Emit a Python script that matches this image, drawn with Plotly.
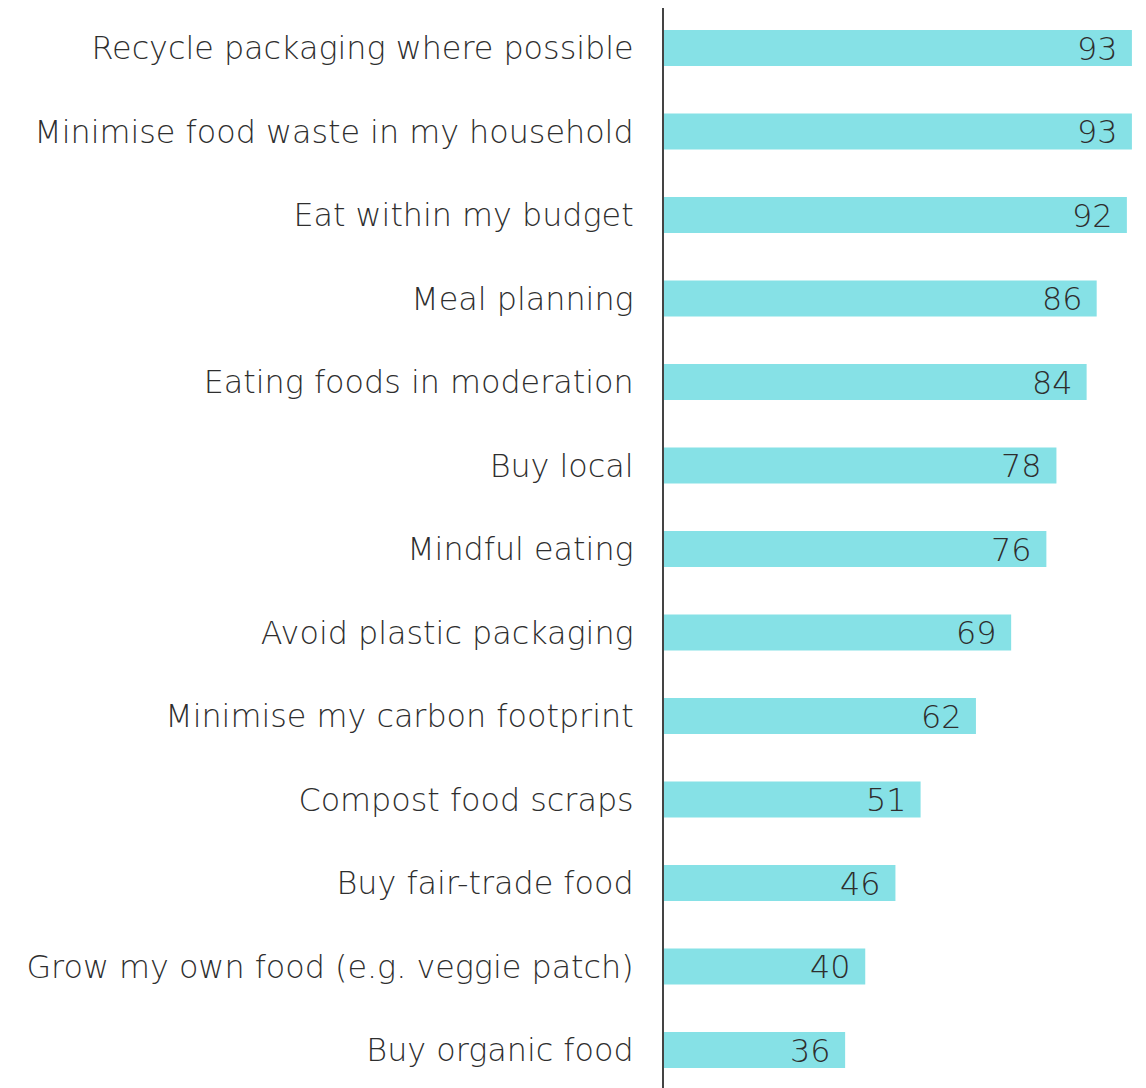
import plotly.graph_objects as go

# Share of respondents who do each food-related behaviour (%)
behaviours = [
    "Recycle packaging where possible",
    "Minimise food waste in my household",
    "Eat within my budget",
    "Meal planning",
    "Eating foods in moderation",
    "Buy local",
    "Mindful eating",
    "Avoid plastic packaging",
    "Minimise my carbon footprint",
    "Compost food scraps",
    "Buy fair-trade food",
    "Grow my own food (e.g. veggie patch)",
    "Buy organic food",
]
shares = [93, 93, 92, 86, 84, 78, 76, 69, 62, 51, 46, 40, 36]

BAR = "#86E1E6"
TEXT = "#2e2e2e"
FONT = "DejaVu Sans"
SIZE = 31.8

fig = go.Figure(
    go.Bar(
        x=shares,
        y=behaviours,
        orientation="h",
        marker=dict(color=BAR, line=dict(width=0)),
        width=0.43,
        hoverinfo="skip",
    )
)

# value labels sit inside the bar, near its end
for name, v in zip(behaviours, shares):
    fig.add_annotation(
        x=v, y=name, text=str(v), showarrow=False,
        xanchor="right", xshift=-13, yshift=0,
        font=dict(family=FONT, size=SIZE, color=TEXT, weight=200),
    )

fig.update_layout(
    width=1146, height=1088,
    margin=dict(l=664, r=0, t=8, b=0),
    paper_bgcolor="white", plot_bgcolor="white",
    showlegend=False,
    font=dict(family=FONT, size=SIZE, color=TEXT, weight=200),
    xaxis=dict(range=[0, 95.8], visible=False, fixedrange=True),
    yaxis=dict(
        type="category",
        categoryorder="array", categoryarray=behaviours,
        range=[12.455, -0.479],
        showgrid=False, zeroline=False,
        showline=True, linecolor="#444444", linewidth=2,
        ticks="", ticklabelstandoff=22,
        tickfont=dict(family=FONT, size=SIZE, color=TEXT, weight=200),
    ),
)

fig.write_html("out.html")
